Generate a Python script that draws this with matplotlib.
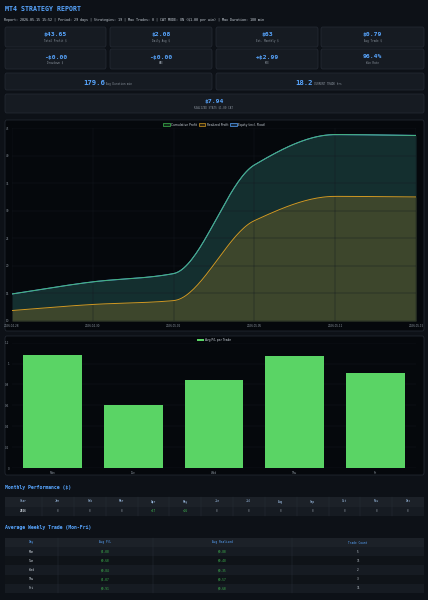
import numpy as np
import matplotlib
matplotlib.use("Agg")
import matplotlib.pyplot as plt
from matplotlib.patches import Rectangle, FancyBboxPatch

# ---- data
header_line = ("Report: 2026.05.15 15:52 | Period: 29 days | Strategies: 19 | Max Trades: 0 | "
               "CAT MODE: ON ($1.00 per win) | Max Duration: 180 min")
card_values_1 = ["$43.65", "$2.08", "$63", "$0.79"]
card_labels_1 = ["Total Profit $", "Daily Avg $", "Est. Monthly $", "Avg Trade $"]
card_values_2 = ["-$0.00", "-$0.00", "+$2.99", "96.4%"]
card_labels_2 = ["Drawdown $", "MAE", "MFE", "Win Rate"]
wide_values = ["179.6", "18.2"]
wide_labels = ["Avg Duration min", "CURRENT TRADE hrs"]
realized_value = "$7.94"
realized_label = "REALIZED STATS $1.00 CAT"

dates = ["2026.04.28", "2026.04.30", "2026.05.02", "2026.05.05", "2026.05.11", "2026.05.15"]
cum_profit = [14.9, 17.1, 18.6, 38.3, 43.8, 43.65]
realized_profit = [11.9, 13.0, 13.7, 28.2, 32.6, 32.5]
equity = [14.9, 17.1, 18.6, 38.3, 43.8, 43.65]

days = ["Mon", "Tue", "Wed", "Thu", "Fri"]
avg_pl = [1.08, 0.60, 0.84, 1.07, 0.91]
avg_realized = [0.80, 0.48, 0.35, 0.57, 0.60]
trade_count = [5, 15, 2, 3, 11]

months = ["Jan", "Feb", "Mar", "Apr", "May", "Jun", "Jul", "Aug", "Sep", "Oct", "Nov", "Dec"]
month_vals = [0, 0, 0, 17, 26, 0, 0, 0, 0, 0, 0, 0]
year = "2026"

# ---- style
W, H = 428, 600
BG = "#0d1117"
CARD = "#161b22"
EDGE = "#262c36"
BLUE = "#58a6ff"
GRAY = "#8b949e"
GREEN = "#3fb950"
ORANGE = "#d29922"
BAR = "#5ad465"
MONO = "DejaVu Sans Mono"

fig = plt.figure(figsize=(W / 100, H / 100), dpi=100, facecolor=BG)


def fx(x):
    return x / W


def fy(y):
    return 1 - y / H


def card(x0, y0, x1, y1, color=CARD, edge=EDGE):
    fig.patches.append(FancyBboxPatch((fx(x0), fy(y1)), fx(x1 - x0), (y1 - y0) / H,
                                      boxstyle="round,pad=0,rounding_size=0.004",
                                      transform=fig.transFigure, facecolor=color,
                                      edgecolor=edge, linewidth=0.5, zorder=-2))


def rect(x0, y0, x1, y1, color):
    fig.patches.append(Rectangle((fx(x0), fy(y1)), fx(x1 - x0), (y1 - y0) / H,
                                 transform=fig.transFigure, facecolor=color,
                                 edgecolor="none", zorder=-2))


def txt(x, y, s, size, color, ha="center", weight="normal", family=MONO):
    fig.text(fx(x), fy(y), s, fontsize=size, color=color, ha=ha, va="center",
             fontweight=weight, family=family)


def smooth(xs, ys, n=40):
    # monotone cubic for drawing only (chart.js-like curved line)
    xs = np.asarray(xs, float)
    ys = np.asarray(ys, float)
    d = np.diff(ys) / np.diff(xs)
    m = np.zeros_like(ys)
    m[0], m[-1] = d[0], d[-1]
    for i in range(1, len(ys) - 1):
        m[i] = 0 if d[i - 1] * d[i] <= 0 else 2 / (1 / d[i - 1] + 1 / d[i])
    outx, outy = [], []
    for i in range(len(xs) - 1):
        h = xs[i + 1] - xs[i]
        t = np.linspace(0, 1, n, endpoint=False)
        h00 = 2 * t**3 - 3 * t**2 + 1
        h10 = t**3 - 2 * t**2 + t
        h01 = -2 * t**3 + 3 * t**2
        h11 = t**3 - t**2
        outx.extend(xs[i] + t * h)
        outy.extend(h00 * ys[i] + h10 * h * m[i] + h01 * ys[i + 1] + h11 * h * m[i + 1])
    outx.append(xs[-1])
    outy.append(ys[-1])
    return np.array(outx), np.array(outy)


# ---- header
txt(5, 9, "MT4 STRATEGY REPORT", 4.8, BLUE, ha="left", weight="bold")
txt(4, 20, header_line, 2.4, "#c9d1d9", ha="left")

# ---- stat cards
xs4 = [(5, 106), (110, 212), (216, 318), (321, 424)]
for (x0, x1), v, l in zip(xs4, card_values_1, card_labels_1):
    card(x0, 27, x1, 47)
    txt((x0 + x1) / 2, 34.5, v, 4.6, BLUE, weight="bold")
    txt((x0 + x1) / 2, 41, l, 1.9, GRAY)
for (x0, x1), v, l in zip(xs4, card_values_2, card_labels_2):
    card(x0, 49, x1, 69)
    txt((x0 + x1) / 2, 57, v, 4.6, BLUE, weight="bold")
    txt((x0 + x1) / 2, 63, l, 1.9, GRAY)

for (x0, x1), v, l, vx in zip([(5, 212), (216, 424)], wide_values, wide_labels, [105, 313]):
    card(x0, 73, x1, 90)
    txt(vx, 83, v, 5.2, BLUE, ha="right", weight="bold")
    txt(vx + 1, 84, l, 1.9, GRAY, ha="left")

card(5, 94, 424, 113)
txt(214, 102, realized_value, 4.6, BLUE, weight="bold")
txt(214, 108, realized_label, 1.9, GRAY)

# ---- line chart
card(5, 120, 424, 331, color="#05080c")
ax = fig.add_axes([fx(12), fy(321), fx(404), (321 - 128) / H])
ax.set_facecolor("none")
xi = np.arange(len(dates))
sx, s_eq = smooth(xi, equity)
_, s_cum = smooth(xi, cum_profit)
_, s_real = smooth(xi, realized_profit)
ax.fill_between(sx, 10, s_eq, color=BLUE, alpha=0.13, linewidth=0)
ax.fill_between(sx, 10, s_cum, color=GREEN, alpha=0.12, linewidth=0)
ax.fill_between(sx, 10, s_real, color=ORANGE, alpha=0.22, linewidth=0)
ax.plot(sx, s_eq, color=BLUE, lw=0.8)
ax.plot(sx, s_cum, color=GREEN, lw=0.6, alpha=0.85)
ax.plot(sx, s_real, color=ORANGE, lw=0.7)
ax.set_xlim(0, len(dates) - 1)
ax.set_ylim(10, 45)
ax.set_yticks(np.arange(10, 46, 5))
ax.set_xticks(xi)
ax.set_xticklabels(dates)
ax.tick_params(length=0, labelsize=2, colors=GRAY, pad=2)
ax.grid(color="#161b22", lw=0.3)
for s in ax.spines.values():
    s.set_visible(False)
h1 = Rectangle((0, 0), 1, 1, facecolor=(0.25, 0.73, 0.31, 0.2), edgecolor=GREEN, lw=0.5)
h2 = Rectangle((0, 0), 1, 1, facecolor=(0.82, 0.6, 0.13, 0.2), edgecolor=ORANGE, lw=0.5)
h3 = Rectangle((0, 0), 1, 1, facecolor=(0.35, 0.65, 1, 0.2), edgecolor=BLUE, lw=0.5)
fig.legend([h1, h2, h3], ["Cumulative Profit", "Realized Profit", "Equity (incl. Float)"],
           loc="center", bbox_to_anchor=(fx(214), fy(124.7)), ncol=3, frameon=False,
           fontsize=2.2, labelcolor="#c9d1d9", handlelength=2.2, handleheight=0.9,
           columnspacing=0.6, handletextpad=0.4)

# ---- bar chart
card(5, 336, 424, 475, color="#05080c")
bx = fig.add_axes([fx(12), fy(468), fx(404), (468 - 342.7) / H])
bx.set_facecolor("none")
bx.bar(days, avg_pl, width=0.73, color=BAR)
bx.set_xlim(-0.5, len(days) - 0.5)
bx.set_ylim(0, 1.2)
bx.set_yticks([0, 0.2, 0.4, 0.6, 0.8, 1.0, 1.2])
bx.set_yticklabels(["0", "0.2", "0.4", "0.6", "0.8", "1", "1.2"])
bx.tick_params(length=0, labelsize=2, colors=GRAY, pad=2)
bx.grid(axis="y", color="#161b22", lw=0.3)
bx.set_axisbelow(True)
for s in bx.spines.values():
    s.set_visible(False)
fig.legend([Rectangle((0, 0), 1, 1, facecolor=BAR)], ["Avg P/L per Trade"],
           loc="center", bbox_to_anchor=(fx(214), fy(340)), frameon=False,
           fontsize=2.2, labelcolor="#c9d1d9", handlelength=2.2, handleheight=0.9,
           handletextpad=0.4)

# ---- monthly performance table
txt(5, 488, "Monthly Performance ($)", 3.5, BLUE, ha="left", weight="bold")
cols = ["Year"] + months
edges = [5, 42] + [42 + (424 - 42) * (i + 1) / 12 for i in range(12)]
rect(5, 497, 424, 506.5, "#1c2128")
rect(5, 506.5, 424, 516, CARD)
for i, c in enumerate(cols):
    cx = (edges[i] + edges[i + 1]) / 2
    txt(cx, 501.5, c, 2.1, "#a5c8f0")
    if i == 0:
        txt(cx, 511, year, 2.1, "#c9d1d9", weight="bold")
    else:
        v = month_vals[i - 1]
        txt(cx, 511, f"+{v}" if v > 0 else str(v), 2.1, GREEN if v > 0 else GRAY)
    if i > 0:
        fig.add_artist(plt.Line2D([fx(edges[i])] * 2, [fy(497), fy(516)], color="#2a313b",
                                  lw=0.3, transform=fig.transFigure))

# ---- weekly table
txt(5, 528, "Average Weekly Trade (Mon-Fri)", 3.5, BLUE, ha="left", weight="bold")
wcols = ["Day", "Avg P/L", "Avg Realized", "Trade Count"]
wedges = [5, 58, 153, 292, 424]
rect(5, 538, 424, 547, "#1c2128")
row_h = 9.2
for r in range(len(days)):
    y0 = 547 + r * row_h
    rect(5, y0, 424, y0 + row_h, CARD if r % 2 == 0 else "#0f1318")
for i, c in enumerate(wcols):
    cx = (wedges[i] + wedges[i + 1]) / 2
    txt(cx, 542.5, c, 2.1, BLUE)
    if i > 0:
        fig.add_artist(plt.Line2D([fx(wedges[i])] * 2, [fy(538), fy(547 + 5 * row_h)],
                                  color="#2a313b", lw=0.3, transform=fig.transFigure))
for r, d in enumerate(days):
    cy = 547 + r * row_h + row_h / 2
    txt((wedges[0] + wedges[1]) / 2, cy, d, 2.1, "#c9d1d9")
    txt((wedges[1] + wedges[2]) / 2, cy, f"${avg_pl[r]:.2f}", 2.1, GREEN)
    txt((wedges[2] + wedges[3]) / 2, cy, f"${avg_realized[r]:.2f}", 2.1, GREEN)
    txt((wedges[3] + wedges[4]) / 2, cy, str(trade_count[r]), 2.1, "#c9d1d9")

fig.savefig("out.png", dpi=100, facecolor=BG)
